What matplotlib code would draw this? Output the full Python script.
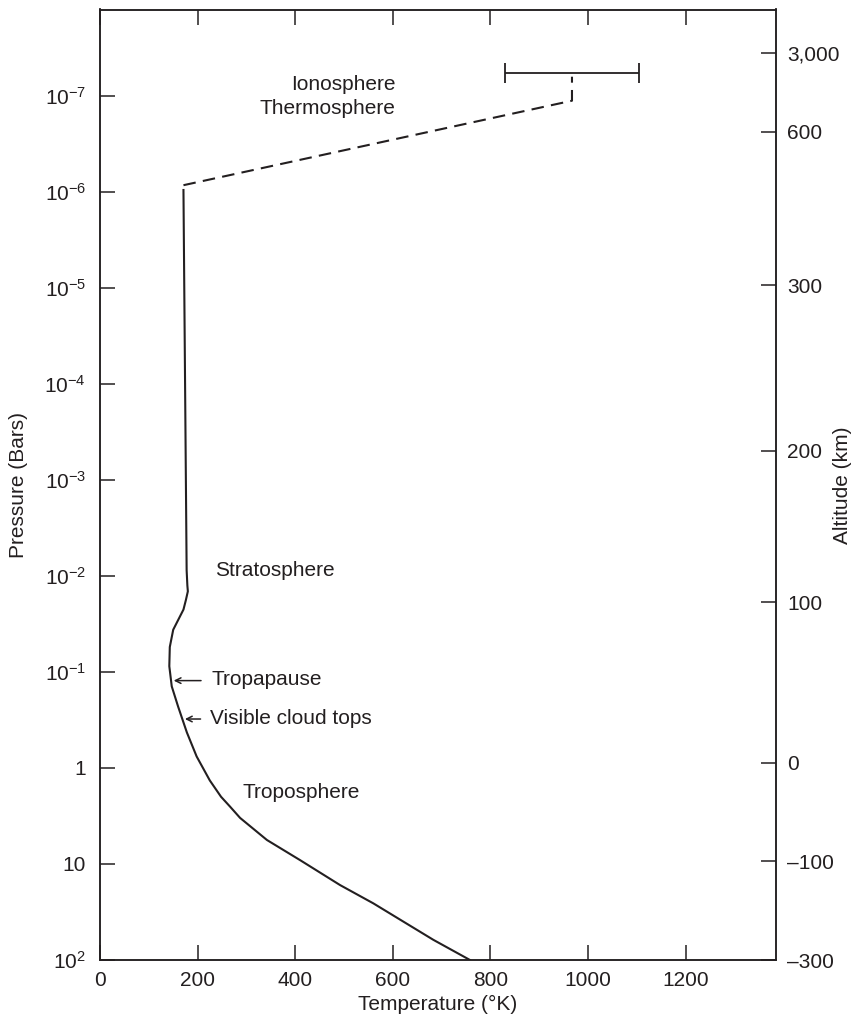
import matplotlib
matplotlib.use("Agg")
import matplotlib.pyplot as plt
import numpy as np

plt.rcParams['font.family'] = ['Liberation Sans', 'DejaVu Sans']
plt.rcParams['mathtext.fontset'] = 'custom'
plt.rcParams['mathtext.rm'] = 'Liberation Sans'
plt.rcParams['mathtext.it'] = 'Liberation Sans:italic'

ink = "#231f20"

# temperature profile (solid), log10 of pressure in bars
profile_logp = [-6.02, -5.40, -2.06, -1.90, -1.84, -1.75, -1.65, -1.44, -1.26,
                -1.06, -0.85, -0.64, -0.37, -0.12, 0.13, 0.30, 0.40, 0.52,
                0.75, 0.96, 1.22, 1.41, 1.58, 1.79, 2.00]
profile_temp = [171, 172, 177.5, 179, 180, 176, 171, 150, 143,
                142, 147, 160, 178, 198, 225, 248, 266, 287,
                342, 410, 492, 560, 615, 683, 758]

# upper atmosphere (dashed)
upper_logp = [-6.07, -6.95, -7.20]
upper_temp = [171, 967, 967]

# exospheric temperature range
exo_logp = -7.236
exo_temp = 967
exo_err = 137

left_ticks = [-7, -6, -5, -4, -3, -2, -1, 0, 1, 2]
left_labels = ["$10^{-7}$", "$10^{-6}$", "$10^{-5}$", "$10^{-4}$", "$10^{-3}$",
               "$10^{-2}$", "$10^{-1}$", "1", "10", "$10^{2}$"]

alt_logp = [-7.451, -6.625, -5.03, -3.305, -1.726, -0.055, 0.972, 2.0]
alt_labels = ["3,000", "600", "300", "200", "100", "0", "\u2013100", "\u2013300"]

temp_ticks = [0, 200, 400, 600, 800, 1000, 1200]

fig = plt.figure(figsize=(8.55, 10.28), dpi=100)
ax = fig.add_axes([100 / 855, 1 - 960 / 1028, 676 / 855, 950.5 / 1028])

ax.set_yscale('log')
ax.plot(profile_temp, 10.0 ** np.array(profile_logp), color=ink, lw=1.5,
        solid_joinstyle='round')
ax.plot(upper_temp, 10.0 ** np.array(upper_logp), color=ink, lw=1.5,
        linestyle=(0, (6, 3.5)))
ax.errorbar([exo_temp], [10.0 ** exo_logp], xerr=[exo_err], fmt='none',
            ecolor=ink, elinewidth=1.3, capsize=7.2, capthick=1.3)

ax.set_xlim(0, 1385)
ax.set_ylim(100, 10.0 ** -7.9)

ax.set_xticks(temp_ticks)
ax.set_yticks(10.0 ** np.array(left_ticks))
ax.set_yticklabels(left_labels)
ax.minorticks_off()
ax.tick_params(direction='in', length=10.8, width=1.1, colors=ink,
               labelsize=15, pad=8, top=True, right=False)
ax.tick_params(axis='y', pad=10)

for s in ax.spines.values():
    s.set_color(ink)
    s.set_linewidth(1.1)

ax.set_xlabel("Temperature (\u00b0K)", fontsize=15, color=ink)
ax.xaxis.set_label_coords(0.5, -0.037)
ax.set_ylabel("Pressure (Bars)", fontsize=15, color=ink)
ax.yaxis.set_label_coords(-0.106, 0.5)

ax2 = ax.twinx()
ax2.set_yscale('log')
ax2.set_ylim(ax.get_ylim())
ax2.set_yticks(10.0 ** np.array(alt_logp))
ax2.set_yticklabels(alt_labels)
ax2.minorticks_off()
ax2.tick_params(direction='in', length=10.8, width=1.1, colors=ink,
                labelsize=15, pad=8)
for s in ax2.spines.values():
    s.set_color(ink)
    s.set_linewidth(1.1)
ax2.set_ylabel("Altitude (km)", fontsize=15, color=ink)
ax2.yaxis.set_label_coords(1.085, 0.5)

txt = dict(fontsize=15, color=ink)
ax.text(606, 10.0 ** -7.115, "Ionosphere", ha='right', va='center', **txt)
ax.text(606, 10.0 ** -6.865, "Thermosphere", ha='right', va='center', **txt)
ax.text(235, 10.0 ** -2.055, "Stratosphere", ha='left', va='center', **txt)
ax.text(292, 10.0 ** 0.257, "Troposphere", ha='left', va='center', **txt)

ax.annotate("", xy=(151, 10.0 ** -0.91), xytext=(207, 10.0 ** -0.91),
            arrowprops=dict(arrowstyle='->', color=ink, lw=1.1,
                            shrinkA=0, shrinkB=0))
ax.text(228, 10.0 ** -0.917, "Tropapause", ha='left', va='center', **txt)
ax.annotate("", xy=(174, 10.0 ** -0.51), xytext=(206, 10.0 ** -0.51),
            arrowprops=dict(arrowstyle='->', color=ink, lw=1.1,
                            shrinkA=0, shrinkB=0))
ax.text(226, 10.0 ** -0.518, "Visible cloud tops", ha='left', va='center', **txt)

fig.savefig("out.png", dpi=100)
